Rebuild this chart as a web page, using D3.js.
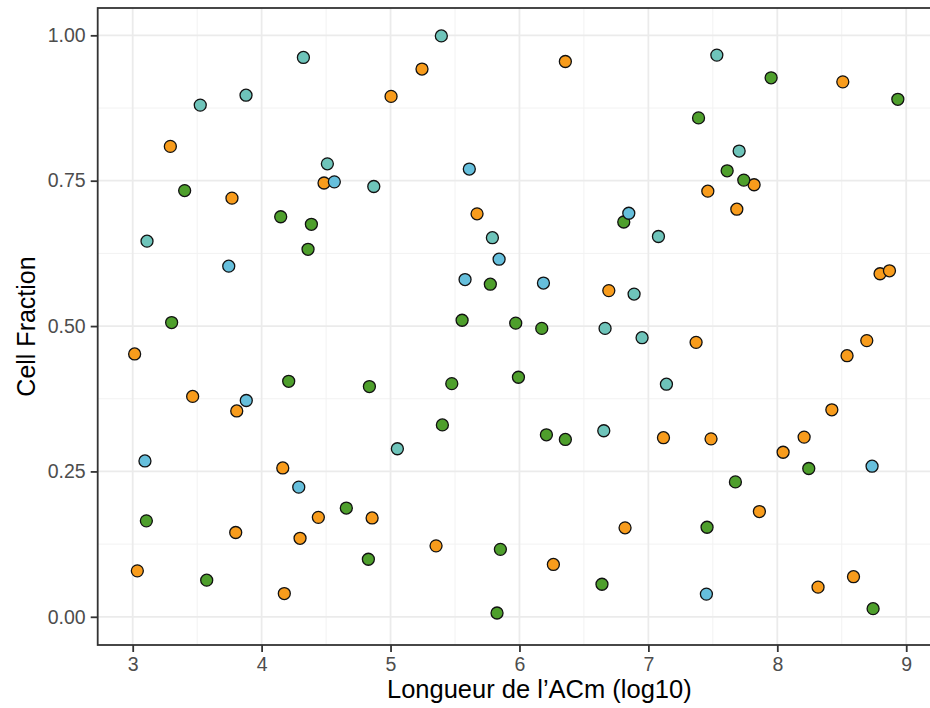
<!DOCTYPE html>
<html>
<head>
<meta charset="utf-8">
<script src="https://cdn.jsdelivr.net/npm/d3@7"></script>
<style>
  html, body { margin: 0; padding: 0; background: #ffffff; }
  svg { display: block; font-family: "Liberation Sans", Arial, sans-serif; }
</style>
</head>
<body>
<svg id="chart" width="930" height="708"></svg>
<script>
// Cell fraction against log10 length, one array of [x, y] pairs per group
const orangePts = [
  [3.292,0.809],[3.770,0.720],[5.244,0.942],[5.004,0.895],[6.356,0.955],[4.484,0.746],
  [5.671,0.693],[6.693,0.561],[8.508,0.920],[7.820,0.743],[7.461,0.732],[7.686,0.701],
  [8.797,0.590],[8.870,0.595],[3.015,0.452],[3.465,0.379],[3.807,0.354],[4.164,0.256],
  [4.440,0.171],[3.799,0.145],[4.298,0.135],[3.036,0.079],[4.176,0.040],[4.857,0.170],
  [5.353,0.122],[6.263,0.090],[7.370,0.472],[8.694,0.475],[8.541,0.449],[8.423,0.356],
  [7.117,0.308],[7.486,0.306],[8.208,0.309],[8.045,0.283],[7.861,0.181],[6.819,0.153],
  [8.591,0.069],[8.316,0.051]
];
const greenPts = [
  [3.403,0.733],[4.148,0.688],[4.386,0.675],[4.360,0.632],[3.302,0.506],[5.774,0.572],
  [5.555,0.510],[5.971,0.505],[6.173,0.496],[7.952,0.927],[8.935,0.890],[7.389,0.858],
  [7.611,0.767],[7.740,0.751],[6.809,0.679],[4.210,0.405],[3.106,0.165],[3.574,0.063],
  [4.836,0.396],[5.475,0.401],[5.992,0.412],[5.402,0.330],[6.209,0.313],[6.356,0.305],
  [4.657,0.187],[5.852,0.116],[4.828,0.099],[6.640,0.056],[5.826,0.0065],[8.244,0.255],
  [7.675,0.232],[7.455,0.154],[8.743,0.014]
];
const tealPts = [
  [4.324,0.962],[3.879,0.897],[3.524,0.880],[5.394,0.999],[4.510,0.779],[4.870,0.740],
  [5.790,0.652],[6.664,0.496],[7.531,0.966],[7.704,0.801],[7.078,0.654],[6.889,0.555],
  [5.053,0.289],[6.654,0.320],[6.951,0.480],[7.140,0.400],[3.111,0.646]
];
const bluePts = [
  [4.564,0.748],[5.611,0.770],[5.842,0.615],[5.578,0.580],[6.186,0.574],[6.848,0.694],
  [3.881,0.372],[3.095,0.268],[4.288,0.223],[8.735,0.259],[7.450,0.039],[3.745,0.603]
];

const xTicks = [3, 4, 5, 6, 7, 8, 9];
const yTicks = [0, 0.25, 0.5, 0.75, 1.0];
const xMinor = [3.5, 4.5, 5.5, 6.5, 7.5, 8.5, 9.5];
const yMinor = [0.125, 0.375, 0.625, 0.875];

const groups = [
  { pts: orangePts, fill: "#F89C1C" },
  { pts: greenPts,  fill: "#4E9F2C" },
  { pts: tealPts,   fill: "#6EC4BA" },
  { pts: bluePts,   fill: "#66BFDC" }
];

const svg = d3.select("#chart");
// the panel runs on past the right edge of the view
const panel = { left: 97.7, top: 8, right: 981, bottom: 645 };

const x = d3.scaleLinear().domain([2.7285, 9.58]).range([panel.left, panel.right]);
const y = d3.scaleLinear().domain([-0.0485, 1.047]).range([panel.bottom, panel.top]);

// grid
const grid = svg.append("g");
grid.selectAll("line.vminor").data(xMinor).join("line")
  .attr("x1", d => x(d)).attr("x2", d => x(d))
  .attr("y1", panel.top).attr("y2", panel.bottom)
  .attr("stroke", "#F2F2F2").attr("stroke-width", 1);
grid.selectAll("line.hminor").data(yMinor).join("line")
  .attr("y1", d => y(d)).attr("y2", d => y(d))
  .attr("x1", panel.left).attr("x2", panel.right)
  .attr("stroke", "#F2F2F2").attr("stroke-width", 1);
grid.selectAll("line.vmajor").data(xTicks).join("line")
  .attr("x1", d => x(d)).attr("x2", d => x(d))
  .attr("y1", panel.top).attr("y2", panel.bottom)
  .attr("stroke", "#EBEBEB").attr("stroke-width", 1.8);
grid.selectAll("line.hmajor").data(yTicks).join("line")
  .attr("y1", d => y(d)).attr("y2", d => y(d))
  .attr("x1", panel.left).attr("x2", panel.right)
  .attr("stroke", "#EBEBEB").attr("stroke-width", 1.8);

// points
const pts = svg.append("g");
groups.forEach(g => {
  pts.selectAll(null).data(g.pts).join("circle")
    .attr("cx", d => x(d[0]))
    .attr("cy", d => y(d[1]))
    .attr("r", 6)
    .attr("fill", g.fill)
    .attr("stroke", "#111")
    .attr("stroke-width", 1.3);
});

// panel border
svg.append("rect")
  .attr("x", panel.left).attr("y", panel.top)
  .attr("width", panel.right - panel.left).attr("height", panel.bottom - panel.top)
  .attr("fill", "none").attr("stroke", "#333333").attr("stroke-width", 1.8);

// axes
const xAxis = d3.axisBottom(x).tickValues(xTicks).tickFormat(d3.format("d"))
  .tickSize(7).tickPadding(5);
const yAxis = d3.axisLeft(y).tickValues(yTicks).tickFormat(d3.format(".2f"))
  .tickSize(7).tickPadding(5);

const gx = svg.append("g").attr("transform", `translate(0,${panel.bottom})`).call(xAxis);
const gy = svg.append("g").attr("transform", `translate(${panel.left},0)`).call(yAxis);
[gx, gy].forEach(g => {
  g.select(".domain").remove();
  g.selectAll(".tick line").attr("stroke", "#333333").attr("stroke-width", 1.8);
  g.selectAll(".tick text").attr("fill", "#4D4D4D")
    .style("font-size", "19.5px").style("font-family", "Liberation Sans, Arial, sans-serif");
});

// axis titles
svg.append("text")
  .attr("x", (panel.left + panel.right) / 2)
  .attr("y", 698)
  .attr("text-anchor", "middle")
  .style("font-size", "25.5px")
  .attr("fill", "#000")
  .text("Longueur de l\u2019ACm (log10)");

svg.append("text")
  .attr("transform", `translate(35,${(panel.top + panel.bottom) / 2}) rotate(-90)`)
  .attr("text-anchor", "middle")
  .style("font-size", "25px")
  .attr("fill", "#000")
  .text("Cell Fraction");
</script>
</body>
</html>
